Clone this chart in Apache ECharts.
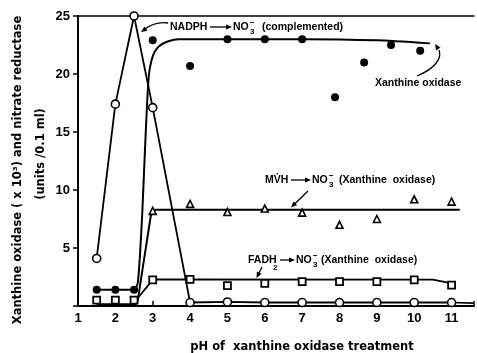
<!DOCTYPE html>
<html><head><meta charset="utf-8">
<script src="https://cdn.jsdelivr.net/npm/echarts@6/dist/echarts.min.js"></script>
<style>html,body{margin:0;padding:0;background:#fff}#c{width:477px;height:353px}</style>
</head><body><div id="c"></div>
<script>
// ---- tick labels ----
const xTicks = [1,2,3,4,5,6,7,8,9,10,11];
const yTicks = [5,10,15,20,25];

// ---- Xanthine oxidase activity (open circles) ----
const phOpen = [1.5, 2, 2.5, 3, 4, 5, 6, 7, 8, 9, 10, 11];
const xoOpen = [4.1, 17.4, 25, 17.1, 0.3, 0.35, 0.3, 0.3, 0.3, 0.3, 0.3, 0.3];
const phOpenTail = [11, 11.58];
const xoOpenTail = [0.3, 0.25];

// ---- NADPH -> NO3- (complemented), filled circles ----
const phNadph = [1.5, 2, 2.5, 3, 4, 5, 6, 7, 7.88, 8.66, 9.38, 10.16];
const nadph   = [1.4, 1.4, 1.4, 22.9, 20.7, 23, 23, 23, 18, 21, 22.5, 22];
const phNadphFit = [1.5, 2.5, 2.6, 2.67, 2.72, 2.76, 2.8, 2.85, 2.9, 2.97, 3.05, 3.17, 3.4, 3.7, 5, 7, 9, 10.42];
const nadphFit   = [1.4, 1.4, 2.0, 5, 8, 11, 14, 17.5, 20, 21.2, 21.9, 22.4, 22.8, 23, 23, 23, 22.9, 22.64];

// ---- MVH -> NO3- (Xanthine oxidase), triangles ----
const phMvh = [3, 4, 5, 6, 7, 8, 9, 10, 11];
const mvh   = [8.2, 8.8, 8.1, 8.4, 8.05, 7.0, 7.5, 9.2, 9.0];
const phMvhFit = [1.5, 2.55, 2.6, 2.95, 3.02, 3.1, 11.22];
const mvhFit   = [0.15, 0.15, 0.5, 7.8, 8.25, 8.3, 8.3];

// ---- FADH2 -> NO3- (Xanthine oxidase), squares ----
const phFad = [1.5, 2, 2.5, 3, 4, 5, 6, 7, 8, 9, 10, 11];
const fad   = [0.5, 0.5, 0.5, 2.25, 2.3, 1.75, 1.95, 2.1, 2.1, 2.1, 2.25, 1.8];
const phFadFit = [2.55, 3, 3.1, 10.5, 11];
const fadFit   = [0.5, 2.25, 2.3, 2.28, 1.95];

const pairs = (xs, ys) => xs.map((x, i) => [x, ys[i]]);
const FONT = '"Liberation Sans", Arial, sans-serif';
const TFONT = '"DejaVu Sans", sans-serif';

const chart = echarts.init(document.getElementById('c'), null, {renderer: 'canvas'});

function T(text, x, y, o) {
  o = o || {};
  const size = o.size || 10.5;
  const align = o.align || 'left';
  return {
    type: 'text', x: x, y: y, rotation: o.rot || 0, z: 20,
    style: {
      text: text, fill: '#000',
      font: 'bold ' + size + 'px ' + (o.family || FONT),
      align: align, textAlign: align,
      verticalAlign: 'middle', textVerticalAlign: 'middle'
    }
  };
}
function head(tx, ty, fx, fy, len, w) {
  len = len || 6; w = w || 2.6;
  const dx = tx - fx, dy = ty - fy, L = Math.hypot(dx, dy);
  const ux = dx / L, uy = dy / L;
  const bx = tx - ux * len, by = ty - uy * len;
  return {type: 'polygon', z: 20,
    shape: {points: [[tx, ty], [bx - uy * w, by + ux * w], [bx + uy * w, by - ux * w]]},
    style: {fill: '#000'}};
}
function L(x1, y1, x2, y2, w) {
  return {type: 'line', z: 20, shape: {x1, y1, x2, y2}, style: {stroke: '#000', lineWidth: w || 1.3}};
}
function inlineArrow(x1, x2, y) {
  return [L(x1, y, x2 - 4, y, 1.3), head(x2, y, x1, y, 6, 2.4)];
}
function no3(x, y) {
  return [T('NO', x, y), T('\u2212', x + 17, y - 4, {size: 8}), T('3', x + 17, y + 4.5, {size: 8})];
}

const graphics = [].concat(
  // axis titles
  T('Xanthine oxidase ( x 10\u00b3) and nitrate reductase', 18, 170, {rot: Math.PI / 2, align: 'center', size: 11.5, family: TFONT}),
  T('(units /0.1 ml)', 41, 154, {rot: Math.PI / 2, align: 'center', size: 11.5, family: TFONT}),
  T('pH of  xanthine oxidase treatment', 302, 347, {align: 'center', size: 11.5, family: TFONT}),
  // NADPH label
  T('NADPH', 170, 27),
  inlineArrow(210, 232, 27),
  no3(233, 27),
  T('(complemented)', 262, 27),
  {type: 'bezierCurve', z: 20, shape: {x1: 168, y1: 23, cpx1: 156, cpy1: 21, x2: 145, y2: 29},
   style: {stroke: '#000', lineWidth: 1.3, fill: null}},
  head(141, 32, 146, 28.5),
  // Xanthine oxidase label
  T('Xanthine oxidase', 375, 83),
  {type: 'bezierCurve', z: 20, shape: {x1: 417, y1: 76, cpx1: 436, cpy1: 68, cpx2: 442, cpy2: 58, x2: 439, y2: 50},
   style: {stroke: '#000', lineWidth: 1.3, fill: null}},
  head(435, 44, 439, 50),
  // MVH label
  T('MV\u0307H', 265, 180),
  inlineArrow(291, 311, 180),
  no3(312, 180),
  T('(Xanthine  oxidase)', 339, 180),
  L(308, 191, 294, 204.5),
  head(291, 207.5, 296, 202.5),
  // FADH2 label
  T('FADH', 248, 260),
  T('2', 273, 268, {size: 8}),
  inlineArrow(280, 295, 260),
  no3(296, 260),
  T('(Xanthine  oxidase)', 321, 260),
  L(262, 267, 258.5, 274),
  head(256.5, 278, 259, 273)
);

const option = {
  animation: false,
  backgroundColor: '#fff',
  grid: {left: 78, right: 0, top: 16, bottom: 47, containLabel: false},
  xAxis: [{
    type: 'value', min: 1, max: 11.6, interval: 1,
    axisLine: {lineStyle: {color: '#000', width: 2}},
    axisTick: {inside: true, length: 5, lineStyle: {color: '#000', width: 1.5}},
    splitLine: {show: false},
    axisLabel: {
      color: '#000', fontWeight: 'bold', fontSize: 13, fontFamily: FONT, margin: 6,
      formatter: v => (xTicks.indexOf(v) >= 0 ? String(v) : '')
    }
  }, {
    type: 'value', min: 1, max: 11.6, position: 'top',
    axisLine: {show: true, onZero: false, lineStyle: {color: '#000', width: 1.5}},
    axisTick: {show: false}, axisLabel: {show: false}, splitLine: {show: false}
  }],
  yAxis: {
    type: 'value', min: 0, max: 25, interval: 5,
    axisLine: {show: true, lineStyle: {color: '#000', width: 2}},
    axisTick: {show: true, length: 5, lineStyle: {color: '#000', width: 1.5}},
    splitLine: {show: false},
    axisLabel: {
      color: '#000', fontWeight: 'bold', fontSize: 13, fontFamily: FONT, margin: 8,
      formatter: v => (yTicks.indexOf(v) >= 0 ? String(v) : '')
    }
  },
  series: [
    {type: 'line', data: pairs(phNadphFit, nadphFit), smooth: 0.2, symbol: 'none', clip: false,
     lineStyle: {color: '#000', width: 2}, z: 2},
    {type: 'line', data: pairs(phMvhFit, mvhFit), smooth: 0.15, symbol: 'none', clip: false,
     lineStyle: {color: '#000', width: 2}, z: 2},
    {type: 'line', data: pairs(phFadFit, fadFit), symbol: 'none', clip: false,
     lineStyle: {color: '#000', width: 1.8}, z: 2},
    {type: 'line', data: pairs(phOpenTail, xoOpenTail), symbol: 'none', clip: false,
     lineStyle: {color: '#000', width: 1.6}, z: 2},
    {type: 'line', data: pairs(phOpen, xoOpen), symbol: 'circle', symbolSize: 8, showAllSymbol: true, clip: false,
     itemStyle: {color: '#fff', borderColor: '#000', borderWidth: 1.6, opacity: 1},
     lineStyle: {color: '#000', width: 1.8}, z: 4},
    {type: 'scatter', data: pairs(phNadph, nadph), symbol: 'circle', symbolSize: 8, clip: false,
     itemStyle: {color: '#000', opacity: 1}, z: 5},
    {type: 'scatter', data: pairs(phMvh, mvh), symbol: 'triangle', symbolSize: 7, clip: false,
     itemStyle: {color: '#fff', borderColor: '#000', borderWidth: 1.6, opacity: 1}, z: 5},
    {type: 'scatter', data: pairs(phFad, fad), symbol: 'rect', symbolSize: 7, clip: false,
     itemStyle: {color: '#fff', borderColor: '#000', borderWidth: 1.8, opacity: 1}, z: 5}
  ],
  graphic: graphics
};
chart.setOption(option);
</script>
</body></html>
